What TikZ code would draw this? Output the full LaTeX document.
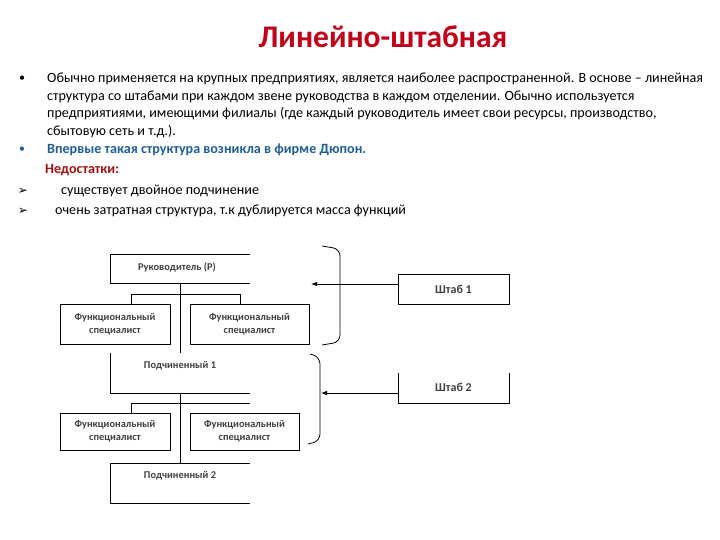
\documentclass[tikz,border=0pt]{standalone}
\usepackage{fontspec}
\setmainfont{Carlito}
\newfontfamily\dejavu{DejaVu Sans}
\usetikzlibrary{arrows.meta}
\definecolor{titlered}{HTML}{C00018}
\definecolor{bodyblue}{HTML}{1F5E96}
\definecolor{darkred}{HTML}{A01010}
\definecolor{boxtext}{HTML}{404040}
\tikzset{
  bodytxt/.style={anchor=west, inner sep=0pt, font=\fontsize{14.1}{16}\selectfont},
  bul/.style={anchor=center, inner sep=0pt, font=\fontsize{12}{12}\selectfont},
  btxt/.style={anchor=center, inner sep=0pt, align=center, text=boxtext, font=\bfseries\fontsize{10.4}{13}\selectfont},
  stxt/.style={btxt, font=\bfseries\fontsize{12}{13}\selectfont},
  ln/.style={line width=0.8pt, black},
  arr/.style={line width=0.8pt, -{Latex[length=6pt,width=4.5pt]}},
}
\begin{document}
\begin{tikzpicture}[x=1pt,y=-1pt]
\useasboundingbox (0,0) rectangle (720,540);
% title
\node[anchor=center, inner sep=0pt, text=titlered, font=\bfseries\fontsize{31.5}{34}\selectfont] (title) at (383,37) {Линейно-штабная};
% bullets
\node[bul] (b1) at (22,79) {•};
\node[bodytxt] (t1) at (47,79) {Обычно применяется на крупных предприятиях, является наиболее распространенной. В основе – линейная};
\node[bodytxt] (t2) at (47,96.5) {структура со штабами при каждом звене руководства в каждом отделении. Обычно используется};
\node[bodytxt] (t3) at (47,114) {предприятиями, имеющими филиалы (где каждый руководитель имеет свои ресурсы, производство,};
\node[bodytxt] (t4) at (47,131.5) {сбытовую сеть и т.д.).};
\node[bul, text=bodyblue] (b2) at (22,150) {•};
\node[bodytxt, text=bodyblue, font=\bfseries\fontsize{14.1}{16}\selectfont] (t5) at (47,150) {Впервые такая структура возникла в фирме Дюпон.};
\node[bodytxt, text=darkred, font=\bfseries\fontsize{14.1}{16}\selectfont] (t6) at (45,170) {Недостатки:};
\node[bul, font=\dejavu\fontsize{12}{12}\selectfont] (a1) at (23,191) {➢};
\node[bodytxt] (t7) at (61,191) {существует двойное подчинение};
\node[bul, font=\dejavu\fontsize{12}{12}\selectfont] (a2) at (23,211) {➢};
\node[bodytxt] (t8) at (55,211) {очень затратная структура, т.к дублируется масса функций};

% diagram: Руководитель
\draw[ln] (250,254) -- (110,254) -- (110,283) -- (250,283);
\node[btxt] (ruk) at (177,267) {Руководитель (Р)};
% functional specialists level 1
\node[btxt, draw=black, line width=0.8pt, minimum width=110pt, minimum height=40pt] (f1) at (115,324) {Функциональный\\специалист};
\node[btxt, draw=black, line width=0.8pt, minimum width=119pt, minimum height=40pt] (f2) at (249.5,324) {Функциональный\\специалист};
\draw[ln] (f1.north -| 131,0) -- (131,294) -- (240,294) -- (f2.north -| 240,0);
% Подчиненный 1
\draw[ln] (110,353) -- (110,393) -- (250,393);
\node[btxt] (p1) at (180,366) {Подчиненный 1};
\draw[ln] (180,283) -- (180,353);
% functional specialists level 2
\node[btxt, draw=black, line width=0.8pt, minimum width=110pt, minimum height=37pt] (f3) at (115,431.5) {Функциональный\\специалист};
\node[btxt, draw=black, line width=0.8pt, minimum width=109pt, minimum height=37pt] (f4) at (244.5,431.5) {Функциональный\\специалист};
\draw[ln] (f3.north -| 131,0) -- (131,403) -- (250,403);
\draw[ln] (180,393) -- (180,463);
% Подчиненный 2
\draw[ln] (250,463) -- (110,463) -- (110,503) -- (250,503);
\node[btxt] (p2) at (180,476) {Подчиненный 2};
% Штабы
\node[stxt, draw=black, line width=0.8pt, minimum width=111pt, minimum height=30pt] (s1) at (453.5,289) {Штаб 1};
\draw[ln] (398,373) -- (398,403) -- (509,403) -- (509,373);
\node[stxt] (s2) at (453.5,387) {Штаб 2};
\coordinate (s2w) at (398,393);
% braces
\draw[ln, rounded corners=7pt] (322,246) -- (340,249) -- (340,342) -- (322,345);
\draw[ln, rounded corners=7pt] (310,354) -- (320,357) -- (320,441) -- (308,444);
% arrows
\coordinate (ar1) at (311,284);
\coordinate (ar2) at (321,393);
\draw[arr] (s1.west |- ar1) -- (ar1);
\draw[arr] (s2w) -- (ar2);
\end{tikzpicture}
\end{document}
